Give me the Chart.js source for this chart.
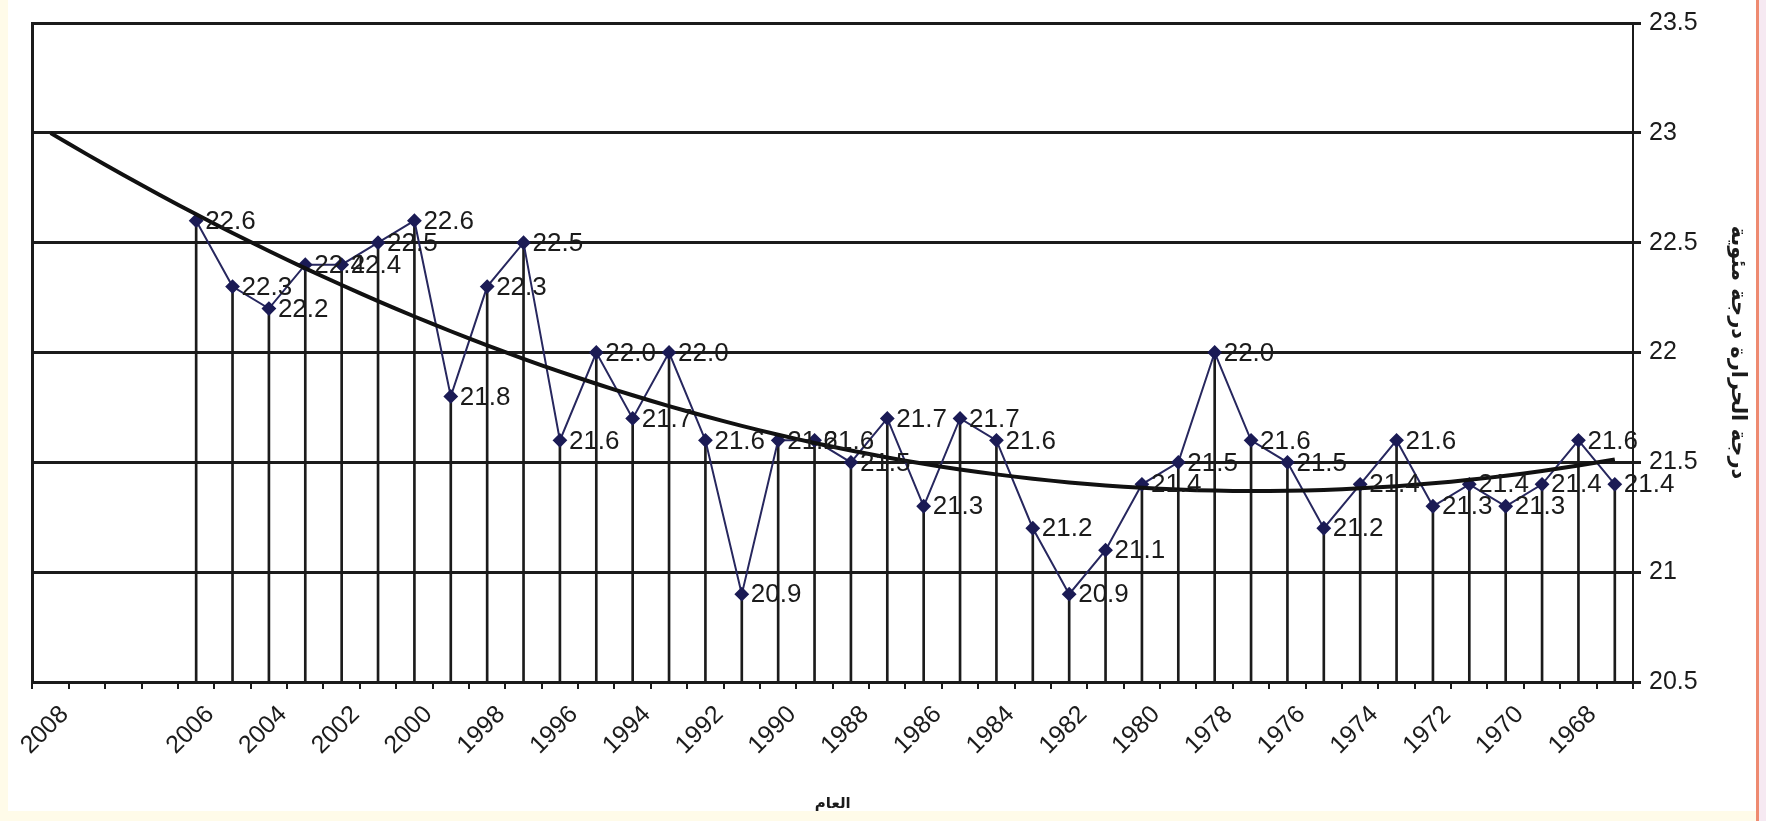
<!DOCTYPE html>
<html>
<head>
<meta charset="utf-8">
<script src="https://cdn.jsdelivr.net/npm/chart.js@4.4.1/dist/chart.umd.min.js"></script>
<style>
  html, body { margin: 0; padding: 0; background: #fff; }
  canvas { display: block; }
</style>
</head>
<body>
<canvas id="tempChart" width="1766" height="821"></canvas>
<script>
// categories, left to right as in the picture (first 4 slots are the trend forecast)
const years = ["2008", "", "", "",
  "2006", "2005", "2004", "2003", "2002", "2001", "2000", "1999", "1998", "1997",
  "1996", "1995", "1994", "1993", "1992", "1991", "1990", "1989", "1988", "1987",
  "1986", "1985", "1984", "1983", "1982", "1981", "1980", "1979", "1978", "1977",
  "1976", "1975", "1974", "1973", "1972", "1971", "1970", "1969", "1968", "1967"];

// mean temperature, 2006 -> 1967
const temps = [22.6, 22.3, 22.2, 22.4, 22.4, 22.5, 22.6, 21.8, 22.3, 22.5,
  21.6, 22.0, 21.7, 22.0, 21.6, 20.9, 21.6, 21.6, 21.5, 21.7,
  21.3, 21.7, 21.6, 21.2, 20.9, 21.1, 21.4, 21.5, 22.0, 21.6,
  21.5, 21.2, 21.4, 21.6, 21.3, 21.4, 21.3, 21.4, 21.6, 21.4];

const forecastSlots = 4;
const yTitle = "درجة الحرارة درجة مئوية";
const xTitle = "العام";

// series padded with empty forecast slots
const tempSeries = Array(forecastSlots).fill(null).concat(temps);

// polynomial (order 2) trendline like the spreadsheet one, with 4 periods forecast
function quadTrend(values, offset, n) {
  let s = [0, 0, 0, 0, 0], t = [0, 0, 0];
  values.forEach((v, i) => {
    const x = i + offset;
    for (let k = 0; k < 5; k++) s[k] += Math.pow(x, k);
    for (let k = 0; k < 3; k++) t[k] += v * Math.pow(x, k);
  });
  const m = [[s[0], s[1], s[2], t[0]], [s[1], s[2], s[3], t[1]], [s[2], s[3], s[4], t[2]]];
  for (let c = 0; c < 3; c++) {
    for (let r = c + 1; r < 3; r++) {
      const f = m[r][c] / m[c][c];
      for (let k = c; k < 4; k++) m[r][k] -= f * m[c][k];
    }
  }
  const coef = [0, 0, 0];
  for (let r = 2; r >= 0; r--) {
    let sum = m[r][3];
    for (let k = r + 1; k < 3; k++) sum -= m[r][k] * coef[k];
    coef[r] = sum / m[r][r];
  }
  const out = [];
  for (let x = 0; x < n; x++) out.push(coef[0] + coef[1] * x + coef[2] * x * x);
  return out;
}
const trend = quadTrend(temps, forecastSlots, years.length);

const ink = "#1b1b1b";

// scanned paper edges
const paper = {
  id: "paper",
  beforeDraw(chart) {
    const c = chart.ctx;
    c.save();
    c.fillStyle = "#ffffff";
    c.fillRect(0, 0, chart.width, chart.height);
    c.fillStyle = "#fffbe9";
    c.fillRect(0, 0, 8, chart.height);
    c.fillRect(0, chart.height - 10, chart.width, 10);
    c.fillStyle = "#f6e9f2";
    c.fillRect(1759, 0, chart.width - 1759, chart.height);
    c.fillStyle = "#ee8a70";
    c.fillRect(1756, 0, 3, chart.height);
    c.restore();
  }
};

// value labels right of every marker
const valueLabels = {
  id: "valueLabels",
  afterDatasetsDraw(chart) {
    const meta = chart.getDatasetMeta(1);
    const c = chart.ctx;
    c.save();
    c.font = "26px 'Liberation Sans', Arial, sans-serif";
    c.fillStyle = ink;
    c.textAlign = "left";
    c.textBaseline = "middle";
    meta.data.forEach((pt, i) => {
      const v = tempSeries[i];
      if (v == null) return;
      c.fillText(v.toFixed(1), pt.x + 9, pt.y + 1);
    });
    c.restore();
  }
};

new Chart(document.getElementById("tempChart"), {
  data: {
    labels: years,
    datasets: [
      {
        type: "bar",
        label: "drop",
        data: tempSeries,
        backgroundColor: ink,
        barThickness: 2,
        order: 3
      },
      {
        type: "line",
        label: "temp",
        data: tempSeries,
        borderColor: "#27275e",
        borderWidth: 2,
        pointStyle: "rectRot",
        pointRadius: 6,
        pointBackgroundColor: "#1b1b55",
        pointBorderColor: "#1b1b55",
        tension: 0,
        order: 2
      },
      {
        type: "line",
        label: "trend",
        data: trend,
        borderColor: "#111",
        borderWidth: 4,
        pointRadius: 0,
        tension: 0.3,
        order: 1
      }
    ]
  },
  options: {
    responsive: false,
    animation: false,
    devicePixelRatio: 1,
    layout: { padding: { top: 20, left: 0, right: 0, bottom: 0 } },
    plugins: {
      legend: { display: false },
      tooltip: { enabled: false }
    },
    scales: {
      x: {
        type: "category",
        offset: true,
        grid: {
          offset: true,
          drawOnChartArea: false,
          drawTicks: true,
          tickLength: 7,
          color: ink,
          lineWidth: 2
        },
        border: { display: true, color: ink, width: 3 },
        ticks: {
          autoSkip: false,
          maxRotation: 45,
          minRotation: 45,
          padding: 11,
          labelOffset: 14,
          color: ink,
          font: { family: "'Liberation Sans', Arial, sans-serif", size: 25 },
          callback: (v, i) => (i % 2 === 0 ? years[i] : "")
        },
        title: {
          display: true,
          text: xTitle,
          color: ink,
          font: { family: "'DejaVu Sans', sans-serif", size: 15, weight: "bold" },
          padding: { top: 0, bottom: 8 }
        },
        afterFit: s => { s.height = 139; }
      },
      y: {
        position: "right",
        min: 20.5,
        max: 23.5,
        ticks: {
          stepSize: 0.5,
          padding: 8,
          color: ink,
          font: { family: "'Liberation Sans', Arial, sans-serif", size: 25 },
          callback: v => String(Math.round(v * 10) / 10)
        },
        grid: { color: ink, lineWidth: 3, tickLength: 8 },
        border: { display: true, color: ink, width: 2 },
        title: {
          display: true,
          text: yTitle,
          color: ink,
          font: { family: "'DejaVu Sans', sans-serif", size: 21, weight: "bold" },
          padding: { top: 16, bottom: 0 }
        },
        afterFit: s => { s.width = 133; }
      },
      yLeft: {
        position: "left",
        min: 20.5,
        max: 23.5,
        ticks: { display: false },
        grid: { drawOnChartArea: false, drawTicks: false },
        border: { display: true, color: ink, width: 3 },
        afterFit: s => { s.width = 29; }
      }
    }
  },
  plugins: [paper, valueLabels]
});
</script>
</body>
</html>
